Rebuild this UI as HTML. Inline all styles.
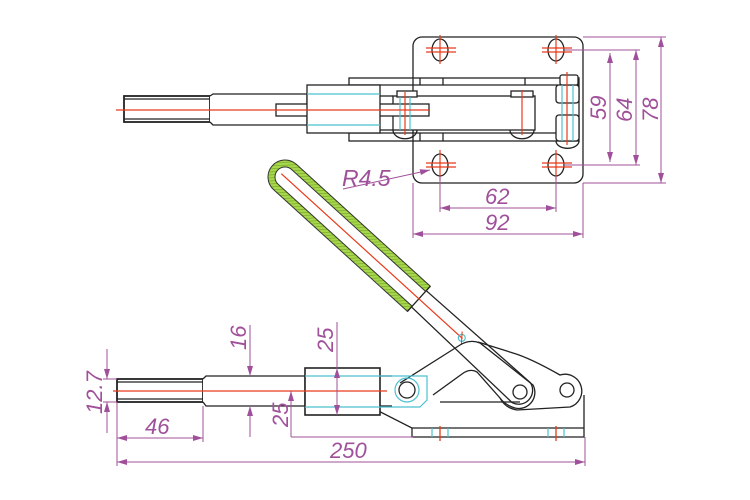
<!DOCTYPE html>
<html><head><meta charset="utf-8"><style>
html,body{margin:0;padding:0;background:#fff;width:750px;height:500px;overflow:hidden}
svg{display:block}
text{font-family:"Liberation Sans",sans-serif;font-style:italic;fill:#a0509a;font-size:22px}
</style></head><body>
<svg width="750" height="500" viewBox="0 0 750 500" xmlns="http://www.w3.org/2000/svg">
<defs>
<marker id="ar" viewBox="0 0 10 6" refX="10" refY="3" markerWidth="10" markerHeight="6" orient="auto-start-reverse" markerUnits="userSpaceOnUse"><path d="M0,0 L10,3 L0,6 z" fill="#a0509a"/></marker>
<pattern id="hat" width="3" height="3" patternUnits="userSpaceOnUse" patternTransform="rotate(45)"><rect width="3" height="3" fill="#a6d64a"/><line x1="0" y1="0" x2="0" y2="3" stroke="#6a9a20" stroke-width="1"/></pattern>
</defs>

<!-- ===== TOP VIEW ===== -->
<g fill="none" stroke="#222" stroke-width="1.3">
<rect x="413" y="37" width="170" height="146" rx="9"/>
<ellipse cx="440" cy="50" rx="8" ry="11"/><ellipse cx="556" cy="50" rx="8" ry="11"/>
<ellipse cx="440" cy="165" rx="8" ry="11"/><ellipse cx="556" cy="165" rx="8" ry="11"/>
<rect x="349" y="78" width="230" height="63" fill="#fff"/>
<line x1="349" y1="85" x2="579" y2="85"/><line x1="349" y1="133" x2="579" y2="133"/>
<line x1="413" y1="78" x2="413" y2="141"/><line x1="420" y1="78" x2="420" y2="85"/><line x1="420" y1="133" x2="420" y2="141"/>
<line x1="443" y1="78" x2="443" y2="85"/><line x1="443" y1="133" x2="443" y2="141"/>
<line x1="525" y1="78" x2="525" y2="85"/>
<rect x="393" y="96" width="142" height="34" fill="#fff"/>
<path d="M393,130 a11,8 0 0 0 24,0" /><path d="M510,130 a11,8 0 0 0 24,0"/>
<rect x="397" y="91" width="20" height="6" fill="#fff"/><rect x="511" y="91" width="22" height="6" fill="#fff"/>
<rect x="556" y="85" width="23" height="18" rx="3" fill="#fff"/>
<rect x="556" y="115" width="23" height="26" rx="3" fill="#fff"/>
<rect x="560" y="75" width="18" height="10" rx="2" fill="#fff"/>
<path d="M556,141 a11,7 0 0 0 23,0"/>
<rect x="124" y="96" width="86" height="26" fill="#fff" stroke-width="1.8"/>
<line x1="124" y1="99" x2="210" y2="99"/><line x1="124" y1="119" x2="210" y2="119"/>
<path d="M210,96 L213,94 L307,94 L307,125 L213,125 L210,122" fill="#fff"/>
<rect x="276" y="104" width="153" height="12" fill="#fff"/>
<rect x="307" y="85" width="73" height="48" fill="#fff"/>
<line x1="380" y1="96" x2="393" y2="96"/><line x1="380" y1="130" x2="393" y2="130"/>
</g>
<g stroke="#4cc0d0" stroke-width="1.2" fill="none">
<line x1="307" y1="94" x2="380" y2="94"/><line x1="307" y1="125" x2="380" y2="125"/>
<line x1="400" y1="97" x2="400" y2="130"/><line x1="410" y1="97" x2="410" y2="130"/>
<line x1="562" y1="85" x2="562" y2="141"/><line x1="573" y1="85" x2="573" y2="141"/>
</g>
<g stroke="#e83a1a" stroke-width="1.2">
<line x1="116" y1="110" x2="430" y2="110"/>
<line x1="405" y1="92" x2="405" y2="135"/><line x1="522" y1="90" x2="522" y2="135"/><line x1="567" y1="72" x2="567" y2="145"/>
<line x1="426" y1="48" x2="456" y2="48"/><line x1="426" y1="52" x2="456" y2="52"/><line x1="440" y1="35" x2="440" y2="64"/>
<line x1="542" y1="48" x2="572" y2="48"/><line x1="542" y1="52" x2="572" y2="52"/><line x1="556" y1="35" x2="556" y2="64"/>
<line x1="426" y1="163" x2="456" y2="163"/><line x1="426" y1="167" x2="456" y2="167"/><line x1="440" y1="150" x2="440" y2="180"/>
<line x1="542" y1="163" x2="572" y2="163"/><line x1="542" y1="167" x2="572" y2="167"/><line x1="556" y1="150" x2="556" y2="180"/>
</g>
<g stroke="#a0509a" stroke-width="1" fill="none">
<line x1="565" y1="50" x2="640" y2="50"/><line x1="565" y1="165" x2="640" y2="165"/>
<line x1="583" y1="37" x2="666" y2="37"/><line x1="583" y1="183" x2="666" y2="183"/>
<line x1="610" y1="53" x2="610" y2="162" marker-start="url(#ar)" marker-end="url(#ar)"/>
<line x1="636" y1="50" x2="636" y2="165" marker-start="url(#ar)" marker-end="url(#ar)"/>
<line x1="661" y1="37" x2="661" y2="183" marker-start="url(#ar)" marker-end="url(#ar)"/>
<line x1="440" y1="176" x2="440" y2="212"/><line x1="556" y1="176" x2="556" y2="212"/>
<line x1="413" y1="183" x2="413" y2="238"/><line x1="583" y1="183" x2="583" y2="238"/>
<line x1="440" y1="208" x2="556" y2="208" marker-start="url(#ar)" marker-end="url(#ar)"/>
<line x1="413" y1="234" x2="583" y2="234" marker-start="url(#ar)" marker-end="url(#ar)"/>
<polyline points="343,189 430,170" marker-end="url(#ar)"/>
</g>
<text x="485" y="204">62</text>
<text x="485" y="230">92</text>
<text x="342" y="186" style="font-size:23px">R4.5</text>
<text transform="translate(606,120) rotate(-90)">59</text>
<text transform="translate(632,122) rotate(-90)">64</text>
<text transform="translate(658,122) rotate(-90)">78</text>

<!-- ===== SIDE VIEW ===== -->
<g transform="translate(285,177) rotate(42.3)">
<path d="M181,-17 L0,-17 A17,17 0 0 0 0,17 L181,17 L181,10 L0,10 A10,10 0 0 1 0,-10 L181,-10 Z" fill="url(#hat)" stroke="#333" stroke-width="1"/>
<path d="M181,-17 L181,17" stroke="#222" stroke-width="1.3" fill="none"/>
<path d="M181,-11 L320,-13 A14,14 0 0 1 320,14 L181,11" fill="none" stroke="#222" stroke-width="1.3"/>
<line x1="-5" y1="0" x2="240" y2="0" stroke="#e83a1a" stroke-width="1.2"/>
<circle cx="239" cy="0" r="3.5" fill="none" stroke="#4cc0d0" stroke-width="1.2"/>
<line x1="235" y1="-5" x2="243" y2="5" stroke="#e83a1a"/>
</g>
<g fill="none" stroke="#222" stroke-width="1.3">
<path d="M363,386 L352,386 A5,5 0 0 0 353,398 L412,428 L412,437 L584,437 L584,395"/>
<line x1="412" y1="428" x2="584" y2="428"/>
<path d="M400,383 L460,345 Q470,339 480,343 L533,385 A16,16 0 0 1 515,408 Q505,405 500,398 L477,372 Q470,368 462,374 L433,395"/>
<path d="M440,402 L520,402"/>
<path d="M478,342 L513,353 Q530,358 560,375 A16,16 0 0 1 570,407 L517,410 Q505,408 500,398"/>
<circle cx="520" cy="392" r="7"/><circle cx="567" cy="390" r="7"/>
<circle cx="407" cy="390" r="8"/>
<rect x="117" y="379" width="86" height="23" fill="#fff" stroke-width="1.8"/>
<line x1="117" y1="382" x2="203" y2="382"/><line x1="117" y1="399" x2="203" y2="399"/>
<path d="M203,379 L206,376 L305,376 L305,406 L206,406 L203,402" fill="#fff"/>
<rect x="305" y="368" width="75" height="47" fill="#fff" stroke-width="1.6"/>
<line x1="380" y1="376" x2="392" y2="376"/><line x1="380" y1="406" x2="392" y2="406"/>
</g>
<g stroke="#4cc0d0" stroke-width="1.2" fill="none">
<line x1="305" y1="376" x2="380" y2="376"/><line x1="305" y1="407" x2="380" y2="407"/>
<path d="M380,376 L427,376 L427,400 L420,407 L380,407"/>
<circle cx="407" cy="390" r="12"/>
<line x1="432" y1="428" x2="432" y2="437"/><line x1="448" y1="428" x2="448" y2="437"/>
<line x1="548" y1="428" x2="548" y2="437"/><line x1="564" y1="428" x2="564" y2="437"/>
</g>
<g stroke="#e83a1a" stroke-width="1.3">
<line x1="113" y1="391" x2="387" y2="391"/>
<line x1="440" y1="426" x2="440" y2="441"/><line x1="556" y1="426" x2="556" y2="441"/>
</g>
<g stroke="#a0509a" stroke-width="1" fill="none">
<line x1="103" y1="379" x2="117" y2="379"/><line x1="103" y1="402" x2="117" y2="402"/>
<line x1="107" y1="349" x2="107" y2="379" marker-end="url(#ar)"/><line x1="107" y1="433" x2="107" y2="402" marker-end="url(#ar)"/>
<line x1="250" y1="325" x2="250" y2="376" marker-end="url(#ar)"/><line x1="250" y1="437" x2="250" y2="406" marker-end="url(#ar)"/>
<line x1="337" y1="322" x2="337" y2="415"/>
<line x1="337" y1="392" x2="337" y2="368" marker-end="url(#ar)"/><line x1="337" y1="392" x2="337" y2="415" marker-end="url(#ar)"/>
<line x1="291" y1="437" x2="291" y2="391" marker-end="url(#ar)"/>
<line x1="291" y1="437" x2="413" y2="437"/>
<line x1="117" y1="402" x2="117" y2="466"/><line x1="203" y1="406" x2="203" y2="442"/><line x1="585" y1="437" x2="585" y2="466"/>
<line x1="117" y1="438" x2="203" y2="438" marker-start="url(#ar)" marker-end="url(#ar)"/>
<line x1="117" y1="462" x2="585" y2="462" marker-start="url(#ar)" marker-end="url(#ar)"/>
</g>
<text transform="translate(102,414) rotate(-90)">12.7</text>
<text transform="translate(246,350) rotate(-90)">16</text>
<text transform="translate(333,352) rotate(-90)">25</text>
<text transform="translate(288,427) rotate(-90)">25</text>
<text x="145" y="434">46</text>
<text x="330" y="458">250</text>
</svg>
</body></html>
